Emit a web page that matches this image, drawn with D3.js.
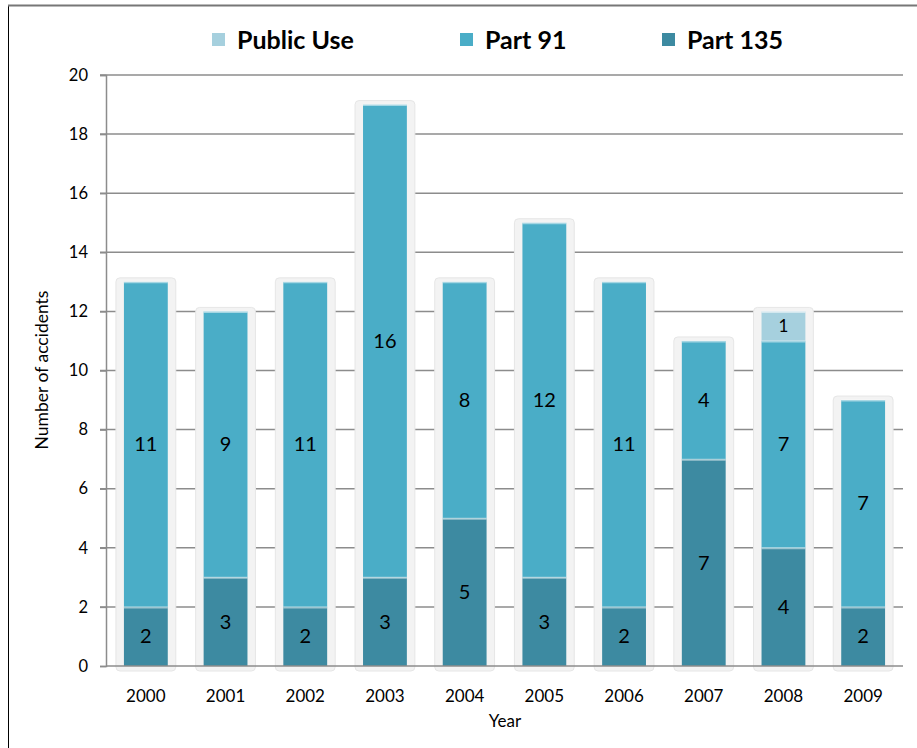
<!DOCTYPE html>
<html><head><meta charset="utf-8">
<script src="https://cdn.jsdelivr.net/npm/d3@7"></script>
<style>body{margin:0;background:#fff;} svg{display:block;font-family:Lato,"Open Sans",sans-serif;}</style>
</head><body>
<svg id="c" width="917" height="748"></svg>
<script>
const years = ["2000","2001","2002","2003","2004","2005","2006","2007","2008","2009"];
const part135 = [2,3,2,3,5,3,2,7,4,2];
const part91 = [11,9,11,16,8,12,11,4,7,7];
const publicUse = [0,0,0,0,0,0,0,0,1,0];
const seriesNames = ["Part 135","Part 91","Public Use"];
const seriesColors = ["#3d8aa1","#4aadc7","#a6d0de"];
const yTicks = [0,2,4,6,8,10,12,14,16,18,20];

const svg = d3.select("#c");
const m = {l:106, r:903, t:75, b:666};
const x = d3.scaleBand().domain(years).range([m.l, m.r]).paddingInner(0.45).paddingOuter(0.225);
const y = d3.scaleLinear().domain([0,20]).range([m.b, m.t]);

// outer frame
svg.append("line").attr("x1",8.5).attr("x2",8.5).attr("y1",5).attr("y2",748).attr("stroke","#000").attr("stroke-width",1);
svg.append("line").attr("x1",8).attr("x2",917).attr("y1",5.5).attr("y2",5.5).attr("stroke","#777").attr("stroke-width",2);

// gridlines
svg.append("g").selectAll("line").data(yTicks.filter(d=>d>0)).join("line")
  .attr("x1",m.l-6).attr("x2",m.r).attr("y1",d=>y(d)).attr("y2",d=>y(d))
  .attr("stroke","#8c8c8c").attr("stroke-width",1.5);

// y axis
const yAxis = svg.append("g").attr("transform",`translate(${m.l},0)`)
  .call(d3.axisLeft(y).tickValues(yTicks).tickSize(6).tickPadding(12));
yAxis.select(".domain").attr("stroke","#8c8c8c").attr("stroke-width",1.5);
yAxis.selectAll(".tick line").attr("stroke","#8c8c8c").attr("stroke-width",1.5);
yAxis.selectAll("text").attr("font-size",16.5).attr("fill","#000").attr("font-family","Lato,'Open Sans',sans-serif");

// bars data
const data = years.map((yr,i)=>({year:yr, vals:[part135[i],part91[i],publicUse[i]]}));
const stacked = d3.stack().keys([0,1,2]).value((d,k)=>d.vals[k])(data);
const totals = data.map(d=>d3.sum(d.vals));

// halos
svg.append("g").selectAll("rect").data(data).join("rect")
  .attr("x",d=>x(d.year)-8).attr("width",x.bandwidth()+16)
  .attr("y",(d,i)=>y(totals[i])-4).attr("height",(d,i)=>y(0)-y(totals[i])+9)
  .attr("rx",4).attr("fill","#f3f3f3").attr("stroke","#e6e6e6").attr("stroke-width",1);

// segments
const gBars = svg.append("g");
stacked.forEach((s,k)=>{
  gBars.append("g").selectAll("rect").data(s.filter(d=>d[1]>d[0])).join("rect")
    .attr("x",d=>x(d.data.year)).attr("width",x.bandwidth())
    .attr("y",d=>y(d[1])).attr("height",d=>y(d[0])-y(d[1]))
    .attr("fill",seriesColors[k]);
});
// separator lines
stacked.forEach((s,k)=>{
  gBars.append("g").selectAll("line").data(s.filter(d=>d[1]>d[0])).join("line")
    .attr("x1",d=>x(d.data.year)).attr("x2",d=>x(d.data.year)+x.bandwidth())
    .attr("y1",d=>y(d[1])+0.5).attr("y2",d=>y(d[1])+0.5)
    .attr("stroke","rgba(255,255,255,0.5)").attr("stroke-width",2);
});
// x axis line
svg.append("line").attr("x1",m.l).attr("x2",m.r).attr("y1",y(0)).attr("y2",y(0)).attr("stroke","#8c8c8c").attr("stroke-width",1.5);

// labels
stacked.forEach((s,k)=>{
  svg.append("g").selectAll("text").data(s.filter(d=>d[1]>d[0])).join("text")
    .attr("x",d=>x(d.data.year)+x.bandwidth()/2)
    .attr("y",d=>y((d[0]+d[1])/2))
    .attr("dy","0.35em").attr("text-anchor","middle")
    .attr("font-size",k===2?17:20).attr("fill","#000")
    .text(d=>d[1]-d[0]);
});

// x tick labels
svg.append("g").selectAll("text").data(years).join("text")
  .attr("x",d=>x(d)+x.bandwidth()/2).attr("y",702).attr("text-anchor","middle")
  .attr("font-size",17).attr("fill","#000").text(d=>d);

// axis titles
svg.append("text").attr("x",505).attr("y",727).attr("text-anchor","middle").attr("font-size",17).text("Year");
svg.append("text").attr("transform","translate(48,370) rotate(-90)").attr("text-anchor","middle").attr("font-size",17.5).text("Number of accidents");

// legend
const legend = [{name:"Public Use",c:seriesColors[2],x:212},{name:"Part 91",c:seriesColors[1],x:460},{name:"Part 135",c:seriesColors[0],x:662}];
const lg = svg.append("g").selectAll("g").data(legend).join("g");
lg.append("rect").attr("x",d=>d.x).attr("y",33).attr("width",13).attr("height",13).attr("fill",d=>d.c);
lg.append("text").attr("x",d=>d.x+25).attr("y",49).attr("font-size",25).attr("font-weight","bold").attr("fill","#000").text(d=>d.name);
</script>
</body></html>
